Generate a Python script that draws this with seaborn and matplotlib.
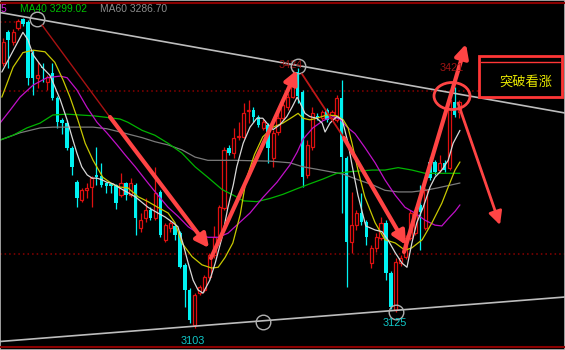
import matplotlib
matplotlib.use("Agg")
import matplotlib.pyplot as plt
from matplotlib.lines import Line2D
from matplotlib.patches import Rectangle, Ellipse
import seaborn as sns
import numpy as np

# ---------------- data (prices) ----------------
opens = [3430, 3468, 3456, 3473, 3485, 3481, 3443, 3412, 3425, 3407,
         3418, 3387, 3360, 3356, 3325, 3283, 3261, 3273, 3277, 3292,
         3291, 3282, 3281, 3280, 3267, 3282, 3267, 3280, 3227, 3239,
         3249, 3239, 3271, 3212, 3227, 3229, 3220, 3181, 3150, 3107,
         3146, 3150, 3166, 3193, 3212, 3251, 3325, 3319, 3339, 3339,
         3371, 3372, 3364, 3350, 3354, 3313, 3345, 3362, 3376, 3388,
         3419, 3394, 3292, 3327, 3365, 3362, 3372, 3362, 3360, 3387,
         3313, 3209, 3230, 3245, 3234, 3183, 3202, 3214, 3233, 3171,
         3125, 3183, 3191, 3214, 3220, 3255, 3227, 3308, 3308, 3298,
         3307, 3301, 3382, 3370]
highs = [3461, 3471, 3472, 3485, 3486, 3483, 3446, 3431, 3430, 3415,
         3430, 3390, 3362, 3360, 3328, 3286, 3276, 3282, 3291, 3327,
         3307, 3283, 3282, 3281, 3294, 3283, 3288, 3282, 3245, 3264,
         3252, 3302, 3273, 3233, 3236, 3231, 3223, 3183, 3152, 3146,
         3156, 3168, 3196, 3229, 3255, 3326, 3329, 3350, 3357, 3381,
         3384, 3376, 3366, 3361, 3356, 3348, 3370, 3381, 3393, 3422,
         3424, 3397, 3335, 3376, 3368, 3372, 3375, 3372, 3391, 3409,
         3315, 3271, 3249, 3270, 3236, 3205, 3220, 3240, 3236, 3173,
         3190, 3193, 3218, 3249, 3252, 3280, 3276, 3314, 3310, 3317,
         3310, 3393, 3401, 3385]
lows = [3427, 3424, 3452, 3471, 3476, 3403, 3391, 3399, 3407, 3397,
        3385, 3350, 3343, 3323, 3292, 3252, 3259, 3264, 3252, 3280,
        3277, 3270, 3270, 3250, 3265, 3261, 3265, 3218, 3222, 3234,
        3236, 3236, 3215, 3209, 3222, 3212, 3177, 3129, 3109, 3103,
        3144, 3148, 3164, 3190, 3209, 3249, 3317, 3313, 3335, 3338,
        3356, 3357, 3351, 3347, 3307, 3302, 3341, 3360, 3372, 3387,
        3381, 3277, 3288, 3323, 3360, 3360, 3357, 3359, 3357, 3245,
        3154, 3196, 3224, 3230, 3205, 3177, 3197, 3212, 3162, 3126,
        3123, 3180, 3188, 3212, 3218, 3199, 3224, 3286, 3292, 3294,
        3296, 3298, 3364, 3362]
closes = [3456, 3459, 3468, 3482, 3478, 3412, 3412, 3415, 3424, 3413,
          3387, 3357, 3356, 3325, 3302, 3264, 3273, 3276, 3288, 3290,
          3280, 3278, 3278, 3257, 3282, 3267, 3282, 3239, 3236, 3249,
          3239, 3270, 3218, 3230, 3233, 3218, 3178, 3150, 3113, 3144,
          3154, 3166, 3193, 3215, 3252, 3323, 3319, 3338, 3340, 3368,
          3372, 3364, 3354, 3357, 3325, 3344, 3362, 3378, 3388, 3412,
          3390, 3290, 3329, 3369, 3362, 3370, 3360, 3370, 3387, 3314,
          3209, 3230, 3245, 3234, 3215, 3202, 3215, 3233, 3171, 3129,
          3185, 3190, 3214, 3245, 3249, 3246, 3273, 3288, 3296, 3307,
          3298, 3385, 3366, 3382]

# moving averages: candle position, price
ma5_x = [-0.3, 4.0, 5.0, 6.1, 7.9, 9.5, 10.5, 11.6, 13.0, 14.0, 15.0, 16.0, 17.1,
         18.1, 19.1, 20.1, 21.1, 22.4, 23.4, 26.9, 29.5, 31.5, 33.0, 34.6, 35.6,
         36.6, 37.7, 38.7, 39.7, 40.7, 42.1, 43.2, 44.6, 45.8, 46.9, 47.6, 48.9,
         50.3, 51.7, 52.9, 54.0, 55.0, 56.4, 57.8, 58.9, 59.9, 60.5, 61.5, 62.5,
         63.9, 65.0, 65.6, 66.6, 68.0, 69.1, 70.3, 71.1, 72.3, 73.9, 75.8, 77.2,
         78.4, 79.9, 81.3, 82.3, 83.3, 84.3, 85.6, 87.0, 88.0, 89.4, 90.7, 91.7, 93.1]
ma5_y = [3419, 3468, 3459, 3440, 3425, 3415, 3401, 3385, 3360, 3339, 3319, 3302, 3292,
         3288, 3288, 3286, 3283, 3281, 3277, 3265, 3252, 3245, 3240, 3233, 3228,
         3208, 3183, 3162, 3150, 3146, 3162, 3183, 3215, 3252, 3280, 3302, 3331,
         3351, 3362, 3362, 3354, 3348, 3354, 3364, 3376, 3388, 3381, 3368, 3364,
         3362, 3356, 3345, 3356, 3364, 3360, 3331, 3304, 3267, 3229, 3224, 3222,
         3212, 3196, 3183, 3178, 3208, 3233, 3252, 3277, 3289, 3298, 3310, 3331, 3347]
ma10_x = [-0.3, 2.0, 4.0, 6.1, 8.5, 10.5, 12.2, 13.6, 15.2, 16.7, 18.3, 20.3, 22.4,
          23.8, 25.4, 27.5, 29.5, 31.5, 33.6, 35.0, 36.4, 38.5, 40.5, 42.5, 43.8,
          45.2, 46.8, 48.3, 49.5, 51.2, 52.9, 55.0, 57.0, 59.1, 60.1, 61.1, 62.5,
          63.9, 66.0, 68.0, 69.3, 70.3, 71.1, 72.3, 73.7, 75.8, 77.8, 79.9, 81.9,
          83.3, 85.4, 87.4, 89.4, 90.7, 92.1, 93.1]
ma10_y = [3388, 3425, 3443, 3446, 3444, 3431, 3409, 3388, 3360, 3331, 3310, 3289, 3280,
          3277, 3276, 3265, 3259, 3252, 3245, 3233, 3208, 3191, 3181, 3177, 3178,
          3190, 3208, 3243, 3286, 3317, 3339, 3351, 3356, 3364, 3368, 3362, 3360,
          3362, 3366, 3365, 3360, 3350, 3331, 3298, 3265, 3233, 3212, 3208, 3199,
          3202, 3212, 3233, 3257, 3277, 3298, 3308]
ma20_x = [-0.67, 1.4, 3.4, 6.1, 8.9, 11.6, 13.0, 15.0, 17.1, 19.1, 21.1, 23.2, 24.8,
          26.9, 29.5, 31.5, 33.6, 35.6, 37.7, 39.7, 41.7, 43.8, 45.8, 47.6, 50.3,
          52.9, 55.8, 58.4, 59.9, 61.1, 63.1, 65.2, 67.2, 68.6, 70.1, 71.7, 73.7,
          75.8, 77.8, 79.9, 81.9, 83.9, 86.0, 88.0, 89.4, 90.7, 92.1, 93.1]
ma20_y = [3356, 3372, 3388, 3403, 3412, 3414, 3412, 3397, 3375, 3357, 3344, 3329, 3317,
          3302, 3282, 3267, 3252, 3241, 3228, 3220, 3215, 3215, 3220, 3230, 3245,
          3264, 3283, 3304, 3320, 3336, 3350, 3359, 3364, 3361, 3351, 3343, 3326,
          3307, 3286, 3267, 3252, 3245, 3236, 3230, 3229, 3238, 3247, 3255]
ma40_x = [-0.67, 2.0, 4.8, 7.5, 10.1, 13.0, 15.6, 18.3, 21.1, 23.8, 25.4, 28.3, 30.9,
          33.6, 36.4, 39.1, 41.7, 44.6, 47.2, 48.9, 51.7, 54.4, 57.0, 59.9, 62.5,
          65.2, 68.0, 70.7, 75.2, 77.8, 80.5, 83.3, 86.0, 88.6, 93.1]
ma40_y = [3335, 3341, 3350, 3356, 3366, 3367, 3366, 3365, 3363, 3361, 3357, 3347, 3341,
          3331, 3319, 3302, 3289, 3274, 3266, 3260, 3259, 3263, 3268, 3275, 3281,
          3287, 3294, 3296, 3298, 3298, 3301, 3298, 3294, 3294, 3294]
ma60_x = [-0.67, 3.4, 7.5, 10.1, 15.6, 18.3, 21.1, 23.8, 28.3, 30.9, 33.6, 36.4, 39.1,
          41.7, 47.2, 54.4, 58.4, 61.1, 63.9, 66.6, 69.3, 72.3, 75.2, 77.8, 80.5,
          83.3, 86.0, 88.6, 93.1]
ma60_y = [3335, 3344, 3350, 3351, 3351, 3351, 3349, 3345, 3338, 3333, 3329, 3323, 3314,
          3310, 3310, 3309, 3307, 3302, 3299, 3296, 3293, 3286, 3280, 3273, 3271,
          3271, 3273, 3276, 3282]

ref_levels = [3481, 3396, 3194]
legend_texts = ["MA40 3299.02", "MA60 3286.70"]
price_labels = ["3424", "3421", "3125", "3103"]
note_text = "突破看涨"

# ---------------- geometry helpers (image pixel -> data) ----------------
W, H = 565, 350
X_OFF, X_STEP = 3.3, 4.905
P_TOP, P_PER_PX = 3507.95, 1.2346


def px(x, y):
    return ((x - X_OFF) / X_STEP, P_TOP - P_PER_PX * y)


RED = "#e01010"
CYAN = "#00f2f2"
ARROW = "#ff4444"
DARKRED = "#a81212"

sns.set_theme(style="dark", rc={"axes.facecolor": "black", "figure.facecolor": "black",
                                "savefig.facecolor": "black"})
plt.rcParams['font.family'] = ['Liberation Sans', 'DejaVu Sans']

fig = plt.figure(figsize=(W / 100, H / 100), dpi=100)
ax = fig.add_axes([0, 0, 1, 1])
ax.set_xlim(px(0, 0)[0], px(W, 0)[0])
ax.set_ylim(px(0, H)[1], px(0, 0)[1])
ax.set_facecolor("black")
ax.axis("off")

# reference dotted levels
ax.hlines(ref_levels[0], px(0, 0)[0], px(17, 0)[0], color="#8a0000", lw=1.1,
          linestyles=(0, (1, 2)), zorder=1)
for lev in ref_levels[1:]:
    ax.hlines(lev, px(0, 0)[0], px(W, 0)[0], color="#8a0000", lw=1.1,
              linestyles=(0, (1, 2)), zorder=1)

# candles
x = np.arange(len(opens))
o, h, l, c = (np.array(v, dtype=float) for v in (opens, highs, lows, closes))
up = c >= o
top = np.maximum(o, c)
bot = np.minimum(o, c)
ax.vlines(x[up], top[up], h[up], color=RED, lw=0.9, zorder=2)
ax.vlines(x[up], l[up], bot[up], color=RED, lw=0.9, zorder=2)
ax.vlines(x[~up], l[~up], h[~up], color=CYAN, lw=0.9, zorder=2)
hgt = np.maximum(top - bot, 0.9)
ax.bar(x[up], hgt[up], bottom=bot[up], width=0.64, facecolor="black",
       edgecolor=RED, linewidth=0.9, zorder=3)
ax.bar(x[~up], hgt[~up], bottom=bot[~up], width=0.7, color=CYAN,
       linewidth=0, zorder=3)

# moving averages
for xs, ys, col in [(ma60_x, ma60_y, "#7a7a7a"), (ma40_x, ma40_y, "#00b400"),
                    (ma20_x, ma20_y, "#c010c8"), (ma10_x, ma10_y, "#c8c800"),
                    (ma5_x, ma5_y, "#d8d8d8")]:
    sns.lineplot(x=xs, y=ys, ax=ax, color=col, linewidth=0.9, sort=False,
                 estimator=None, legend=False, zorder=4)

# trend lines
ax.plot(*zip(px(0, 12.5), px(W, 113)), color="#bdbdbd", lw=1.2, zorder=5)
ax.plot(*zip(px(0, 341.5), px(W, 297)), color="#bdbdbd", lw=1.2, zorder=5)

# circles
for cx, cy in [(37, 19), (298, 66), (263, 322), (396, 312)]:
    ax.plot(*px(cx, cy), marker="o", ms=10.5, mfc="none", mec="#b0b0b0", mew=1.0,
            zorder=6)


def arrow(p0, p1, lw=3.0, col=ARROW, head=True):
    style = "-|>,head_length=0.8,head_width=0.4" if head else "-"
    ax.annotate("", xy=px(*p1), xytext=px(*p0),
                arrowprops=dict(arrowstyle=style, color=col, lw=lw, shrinkA=0,
                                shrinkB=0, mutation_scale=10), zorder=7)


arrow((42, 25), (112, 120), lw=1.0, col=DARKRED, head=False)
arrow((110, 117), (209, 248), lw=3.0)
arrow((211, 258), (297, 70), lw=3.0)
arrow((302, 74), (346, 141), lw=1.3, col="#c01818", head=False)
arrow((344, 138), (406, 245), lw=3.0)
arrow((404, 252), (466, 44), lw=3.0)
arrow((458, 103), (500, 225), lw=2.0)

ax.add_patch(Ellipse(px(452, 96), width=36 / X_STEP, height=27 * P_PER_PX,
                     fill=False, edgecolor=ARROW, lw=2.0, zorder=7))

# note box
bx0, by0 = px(479, 97)
bx1, by1 = px(562, 56)
ax.add_patch(Rectangle((bx0, by0), bx1 - bx0, by1 - by0, facecolor="black",
                       edgecolor="#ff3636", lw=2.0, zorder=6))
ax.plot(*zip(px(481, 61.5), px(560, 61.5)), color="#ff3636", lw=1.0, zorder=7)
ax.text(*px(526, 82), note_text, color="#e6e600", fontsize=9.5,
        family=["Noto Sans CJK SC", "DejaVu Sans"], ha="center", va="center", zorder=8)

# price labels
ax.text(*px(291, 65), price_labels[0], color="#a01414", fontsize=7.8, ha="center",
        va="center", zorder=5)
ax.text(*px(452, 68), price_labels[1], color="#a01414", fontsize=7.8, ha="center",
        va="center", zorder=8)
ax.text(*px(395, 323), price_labels[2], color="#10c8c8", fontsize=7.8, ha="center",
        va="center", zorder=8)
ax.text(*px(193, 341), price_labels[3], color="#10c8c8", fontsize=7.8, ha="center",
        va="center", zorder=8)

# legend header
ax.text(*px(20, 8.5), legend_texts[0], color="#00c000", fontsize=7.4, ha="left",
        va="center", zorder=8)
ax.text(*px(100, 8.5), legend_texts[1], color="#8c8c8c", fontsize=7.4, ha="left",
        va="center", zorder=8)
ax.text(*px(0.5, 8.5), "5", color="#e020e0", fontsize=7.4, ha="left", va="center",
        zorder=8)

# window borders
fig.add_artist(Line2D([0, 1], [1 - 2.5 / H] * 2, color="#8a0000", lw=1.5))
fig.add_artist(Line2D([0, 1], [1 - 346.5 / H] * 2, color="#8a0000", lw=1.5))
fig.add_artist(Rectangle((0, 0), 1, 1, transform=fig.transFigure, fill=False,
                         edgecolor="#b8b8b8", lw=1.2))

fig.savefig("out.png", dpi=100, facecolor="black")
